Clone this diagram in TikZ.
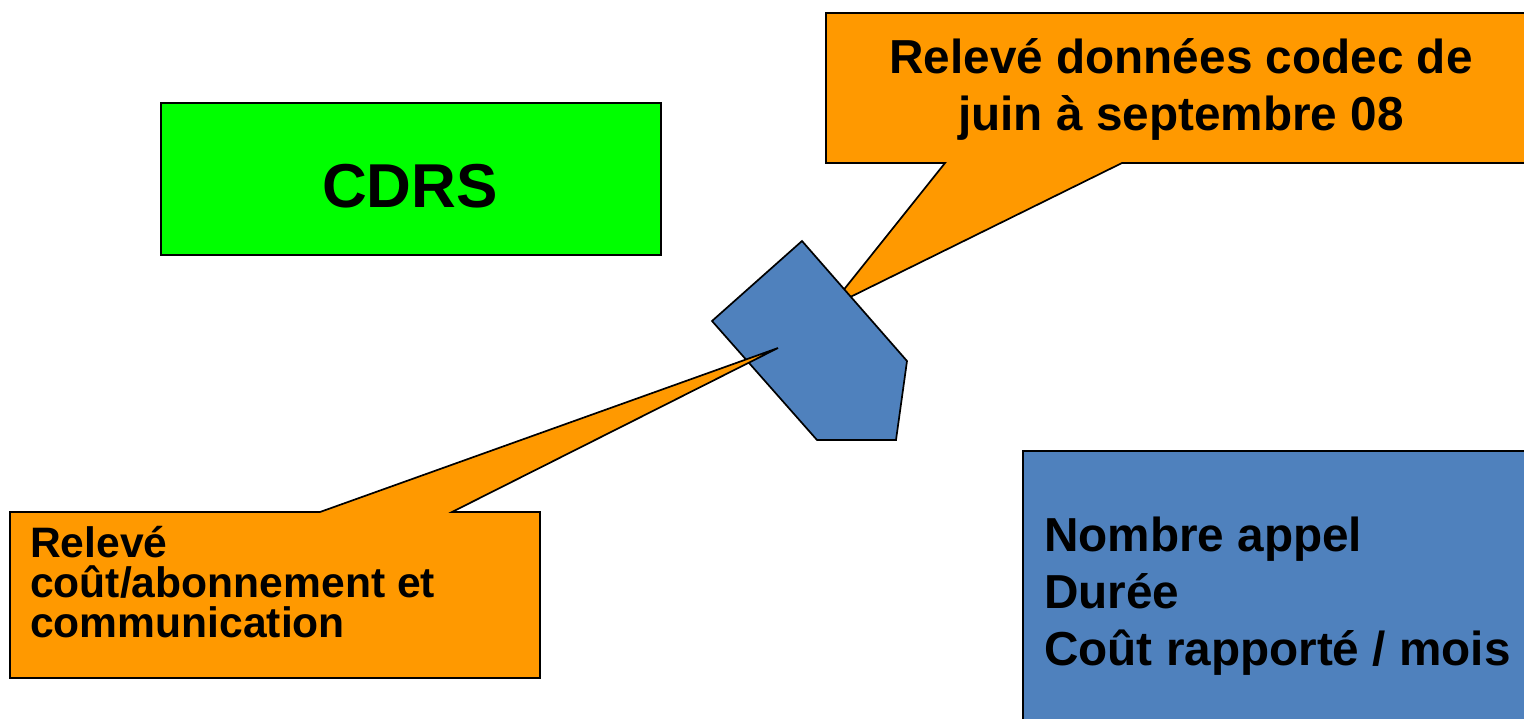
\documentclass[tikz,border=0pt]{standalone}
\usepackage{fontspec}
\setmainfont{Liberation Sans}
\definecolor{cgreen}{HTML}{00FF00}
\definecolor{corange}{HTML}{FF9900}
\definecolor{cblue}{HTML}{4F81BD}
\tikzset{
  shp/.style={draw=black, line width=1.7pt, line join=miter},
  bigtxt/.style={font=\bfseries\fontsize{47.7}{57}\selectfont, inner sep=0pt, text=black},
  midtxt/.style={font=\bfseries\fontsize{42.6}{40}\selectfont, inner sep=0pt, text=black},
  cdrstxt/.style={font=\bfseries\fontsize{62}{70}\selectfont, inner sep=0pt, text=black}
}
\begin{document}
\begin{tikzpicture}[x=1pt,y=-1pt]
\useasboundingbox (0,0) rectangle (1524,718);
\clip (0,0) rectangle (1524,718);
\fill[white] (0,0) rectangle (1524,718);
% top callout
\draw[shp, fill=corange] (826,13) -- (1540,13) -- (1540,163) -- (1122,163) -- (830,307) -- (945,163) -- (826,163) -- cycle;
% pentagon
\draw[shp, fill=cblue] (802,241) -- (907,361) -- (896,440) -- (817,440) -- (712,321) -- cycle;
% bottom callout
\draw[shp, fill=corange] (10,512) -- (320,512) -- (778,348) -- (452,512) -- (540,512) -- (540,678) -- (10,678) -- cycle;
% green box
\draw[shp, fill=cgreen] (161,103) rectangle (661,255);
\node[cdrstxt, anchor=base] (cdrs) at (410,207) {CDRS};
% right blue box
\draw[shp, fill=cblue] (1023,451) rectangle (1545,740);
\node[bigtxt, anchor=base west, align=left] (mesures) at (1044,665) {Nombre appel\\Durée\\Coût rapporté / mois};
% callout texts
\node[bigtxt, anchor=base, align=center] (codec) at (1181,130) {Relevé données codec de\\juin à septembre 08};
\node[midtxt, anchor=base west, align=left] (cout) at (30,637) {Relevé\\coût/abonnement et\\communication};
\end{tikzpicture}
\end{document}
